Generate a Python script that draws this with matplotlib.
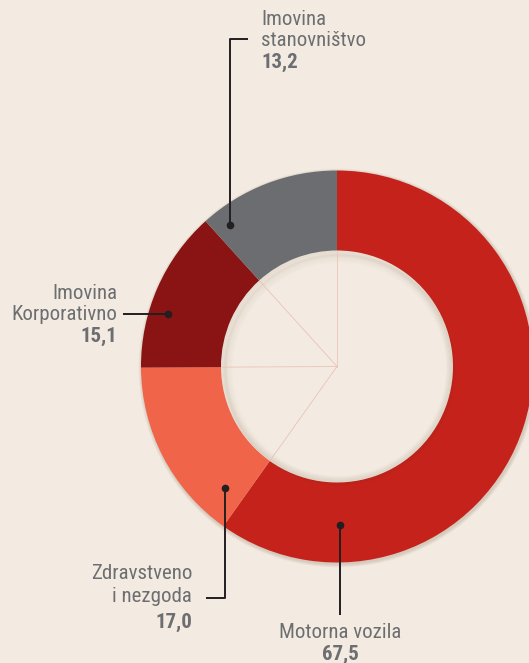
import matplotlib
matplotlib.use("Agg")
import matplotlib.pyplot as plt
import numpy as np
from matplotlib.patches import Circle

# data
labels = ["Motorna vozila", "Zdravstveno\ni nezgoda", "Imovina\nKorporativno", "Imovina\nstanovništvo"]
values = [67.5, 17.0, 15.1, 13.2]
value_text = ["67,5", "17,0", "15,1", "13,2"]
colors = ["#C5221B", "#F0644A", "#8A1313", "#6C6D70"]

BG = "#F3EBE1"
TXT = "#6D6E71"
W, H = 529, 663
FONT = ["Roboto Condensed", "DejaVu Sans"]
FS = 15

fig = plt.figure(figsize=(W / 100, H / 100), dpi=100, facecolor=BG)
ax = fig.add_axes([0, 0, 1, 1])

cx, cy = 337, H - 366.5
r_out, r_in = 196, 116

# soft outer shadow
for k in range(6):
    ax.add_patch(Circle((cx + 1, cy - 1.5), r_out + 3.5 - k * 0.6, color="#5a3a20",
                        alpha=0.03, lw=0, zorder=1))
# hole background on top of the shadow
ax.add_patch(Circle((cx, cy), r_in + 1, color=BG, lw=0, zorder=1.5))

wedges, _ = ax.pie(values, colors=colors, startangle=90, counterclock=False,
                   center=(cx, cy), radius=r_out, frame=True,
                   wedgeprops=dict(width=r_out - r_in, linewidth=0, zorder=2))
ax.set_xlim(0, W)
ax.set_ylim(0, H)
ax.set_aspect("equal")
ax.axis("off")

# inner shadow in the hole (stroked rings, heavier on the upper left)
for k in range(7):
    ax.add_patch(Circle((cx, cy), r_in - 0.5 - k * 0.9, fill=False, ec="#5a3a20",
                        lw=1.3, alpha=0.045 * (1 - k / 7), zorder=3))
for k in range(8):
    ax.add_patch(Circle((cx + 2.5, cy - 3), r_in - 1 - k * 1.1, fill=False, ec="#5a3a20",
                        lw=1.5, alpha=0.04 * (1 - k / 8), zorder=3))

# faint slice boundaries inside the hole
for w in wedges:
    a = np.deg2rad(w.theta1)
    ax.plot([cx, cx + (r_in - 1) * np.cos(a)], [cy, cy + (r_in - 1) * np.sin(a)],
            color="#EAC3B6", lw=0.6, zorder=4)

# leaders: dot position and polyline (pixel coords, y from top)
leaders = [
    [(340, 525), (340, 615)],
    [(225, 488), (225, 598), (206, 598)],
    [(168, 314), (123, 314)],
    [(230, 225), (230, 39), (248, 39)],
]
for pts in leaders:
    xs = [p[0] for p in pts]
    ys = [H - p[1] for p in pts]
    ax.plot(xs, ys, color="#231F20", lw=1.4, zorder=6, solid_capstyle="butt")
    ax.plot(xs[0], ys[0], "o", color="#231F20", ms=4.5, zorder=6)

# label placement: x, alignment, baseline of first line, line step, extra gap before value
label_pos = [
    (340, "center", 638, 22, 0),
    (192, "right", 579, 23, 3),
    (117, "right", 299, 21.5, 0),
    (261, "left", 25, 21.5, 0),
]
for lab, val, (x, ha, y0, step, gap) in zip(labels, value_text, label_pos):
    lines = lab.split("\n")
    for i, line in enumerate(lines):
        ax.text(x, H - (y0 + i * step), line, ha=ha, va="baseline", fontsize=FS,
                color=TXT, family=FONT, zorder=7)
    yv = y0 + len(lines) * step + gap
    ax.text(x, H - yv, val, ha=ha, va="baseline", fontsize=FS, fontweight="bold",
            color=TXT, family=FONT, zorder=7)

fig.savefig("out.png", dpi=100, facecolor=BG)
